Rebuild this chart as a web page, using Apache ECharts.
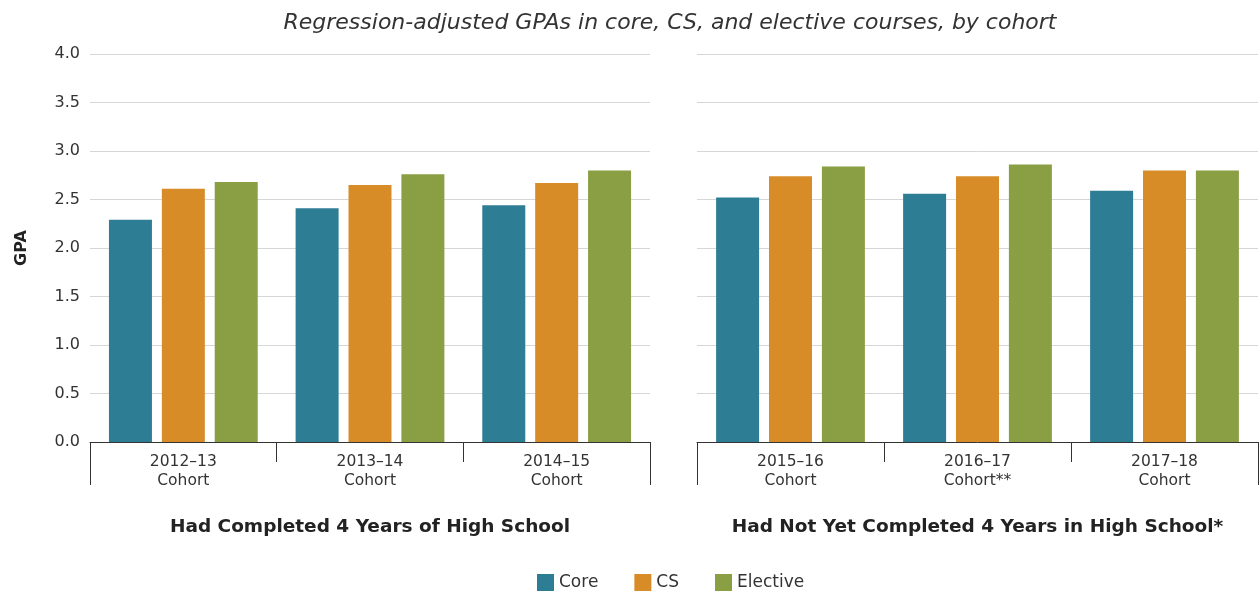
<!DOCTYPE html>
<html>
<head>
<meta charset="utf-8">
<script src="https://cdn.jsdelivr.net/npm/echarts@6/dist/echarts.min.js"></script>
<style>
  html, body { margin: 0; padding: 0; background: #fff; }
  #chart { width: 1259px; height: 592px; }
</style>
</head>
<body>
<div id="chart"></div>
<script>
// cohorts, split by completion group
const leftCohorts = ['2012–13\nCohort', '2013–14\nCohort', '2014–15\nCohort'];
const rightCohorts = ['2015–16\nCohort', '2016–17\nCohort**', '2017–18\nCohort'];
const seriesNames = ['Core', 'CS', 'Elective'];
const colors = ['#2d7d95', '#d88c28', '#8a9f44'];

// GPA values
const leftCore = [2.29, 2.41, 2.44];
const leftCS = [2.61, 2.65, 2.67];
const leftElective = [2.68, 2.76, 2.80];
const rightCore = [2.52, 2.56, 2.59];
const rightCS = [2.74, 2.74, 2.80];
const rightElective = [2.84, 2.86, 2.80];

const yTicks = { min: 0, max: 4, interval: 0.5 };
const fontFamily = '"DejaVu Sans", "Noto Sans", sans-serif';

const chart = echarts.init(document.getElementById('chart'));

function catAxis(gridIndex, data, groupName) {
  return {
    type: 'category',
    gridIndex: gridIndex,
    data: data,
    axisLine: { lineStyle: { color: '#333', width: 1 } },
    axisTick: { show: true, length: 20, lineStyle: { color: '#333' } },
    axisLabel: { color: '#333', fontSize: 15.5, lineHeight: 19, margin: 10, fontFamily: fontFamily },
    name: groupName,
    nameLocation: 'middle',
    nameGap: 76,
    nameTextStyle: { color: '#222', fontSize: 18.5, fontWeight: 'bold', fontFamily: fontFamily }
  };
}

// outer bracket: one-category axis whose boundary ticks are longer
function bracketAxis(gridIndex) {
  return {
    type: 'category',
    gridIndex: gridIndex,
    data: [''],
    position: 'bottom',
    axisLine: { show: false },
    axisTick: { show: true, length: 43, lineStyle: { color: '#333' } },
    axisLabel: { show: false }
  };
}

function valAxis(gridIndex, showLabels) {
  return {
    type: 'value',
    gridIndex: gridIndex,
    min: yTicks.min,
    max: yTicks.max,
    interval: yTicks.interval,
    axisLine: { show: false },
    axisTick: { show: false },
    splitLine: { lineStyle: { color: '#d6d6d6', width: 1 } },
    axisLabel: {
      show: showLabels,
      color: '#333',
      fontSize: 16,
      margin: 10,
      fontFamily: fontFamily,
      formatter: v => v.toFixed(1)
    },
    name: showLabels ? 'GPA' : '',
    nameLocation: 'middle',
    nameGap: 60,
    nameRotate: 90,
    nameTextStyle: { color: '#222', fontSize: 16, fontWeight: 'bold', fontFamily: fontFamily }
  };
}

function bar(name, data, xi, yi, color) {
  return {
    name: name,
    type: 'bar',
    xAxisIndex: xi,
    yAxisIndex: yi,
    data: data,
    barWidth: 43,
    barGap: '23%',
    itemStyle: { color: color },
    emphasis: { disabled: true }
  };
}

const option = {
  animation: false,
  title: {
    text: 'Regression-adjusted GPAs in core, CS, and elective courses, by cohort',
    left: 665,
    textAlign: 'center',
    top: 7,
    textStyle: { color: '#333', fontSize: 22, fontStyle: 'italic', fontWeight: 'normal', fontFamily: fontFamily }
  },
  legend: {
    bottom: 1,
    padding: 0,
    left: 537,
    data: seriesNames,
    icon: 'rect',
    itemWidth: 17,
    itemHeight: 17,
    itemGap: 36,
    itemStyle: { borderWidth: 0 },
    textStyle: { color: '#333', fontSize: 17, fontFamily: fontFamily }
  },
  grid: [
    { left: 90, right: 609, top: 54, bottom: 150 },
    { left: 697, right: 1, top: 54, bottom: 150 }
  ],
  xAxis: [
    catAxis(0, leftCohorts, 'Had Completed 4 Years of High School'),
    catAxis(1, rightCohorts, 'Had Not Yet Completed 4 Years in High School*'),
    bracketAxis(0),
    bracketAxis(1)
  ],
  yAxis: [valAxis(0, true), valAxis(1, false)],
  series: [
    bar(seriesNames[0], leftCore, 0, 0, colors[0]),
    bar(seriesNames[1], leftCS, 0, 0, colors[1]),
    bar(seriesNames[2], leftElective, 0, 0, colors[2]),
    bar(seriesNames[0], rightCore, 1, 1, colors[0]),
    bar(seriesNames[1], rightCS, 1, 1, colors[1]),
    bar(seriesNames[2], rightElective, 1, 1, colors[2])
  ]
};

chart.setOption(option);
</script>
</body>
</html>
